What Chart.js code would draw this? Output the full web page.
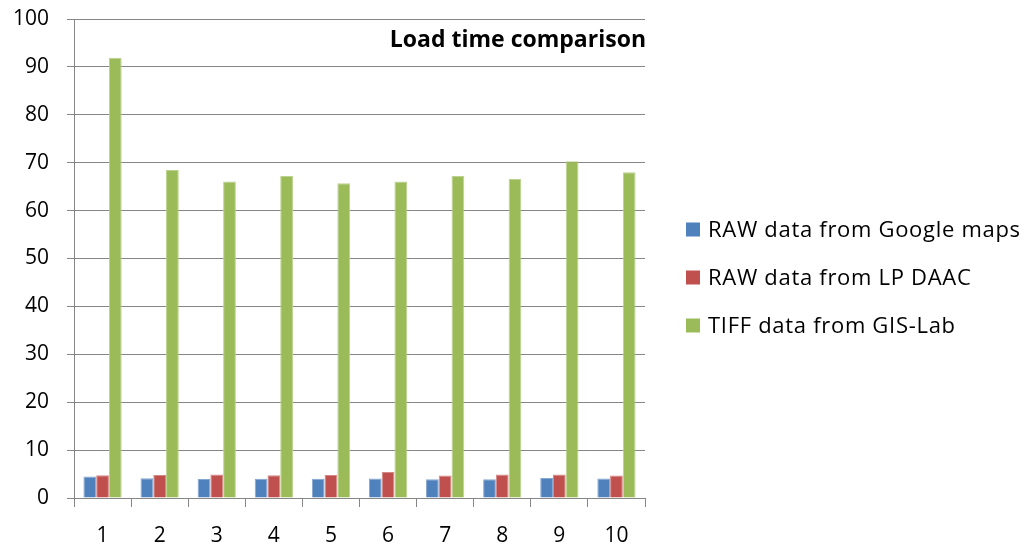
<!DOCTYPE html>
<html>
<head>
<meta charset="utf-8">
<script src="https://cdn.jsdelivr.net/npm/chart.js@4.4.0/dist/chart.umd.min.js"></script>
<style>
  html, body { margin: 0; padding: 0; background: #fff; }
  #wrap { width: 1027px; height: 545px; }
</style>
</head>
<body>
<div id="wrap"><canvas id="grafico" width="1027" height="545"></canvas></div>
<script>
// dados
var categorias = ['1', '2', '3', '4', '5', '6', '7', '8', '9', '10'];
var googleMaps = [4.5, 4.1, 3.95, 4.0, 4.0, 4.05, 3.9, 3.9, 4.2, 4.05];
var lpDaac = [4.75, 4.8, 4.9, 4.75, 4.8, 5.45, 4.7, 4.9, 4.9, 4.7];
var gisLab = [91.9, 68.5, 66.1, 67.2, 65.7, 66.1, 67.2, 66.6, 70.3, 68.0];
var ticksY = [0, 10, 20, 30, 40, 50, 60, 70, 80, 90, 100];
var tituloGrafico = 'Load time comparison';

var cinza = '#868686';
var fonte = "'Open Sans', sans-serif";

// acha o tamanho de fonte para o texto caber numa largura
function tamanhoParaLargura(ctx, texto, peso, largura) {
    ctx.font = peso + ' 20px ' + fonte;
    var w = ctx.measureText(texto).width;
    return Math.round(20 * largura / w * 2) / 2;
}

// titulo desenhado dentro da area do grafico, alinhado a direita
const tituloPlugin = {
    id: 'tituloDentro',
    afterDatasetsDraw(chart) {
        const ctx = chart.ctx;
        ctx.save();
        var tam = Math.min(23, tamanhoParaLargura(ctx, tituloGrafico, 'bold', 260));
        ctx.font = 'bold ' + tam + 'px ' + fonte;
        ctx.fillStyle = '#000';
        ctx.textAlign = 'right';
        ctx.textBaseline = 'middle';
        ctx.fillText(tituloGrafico, chart.chartArea.right + 1, 40);
        ctx.restore();
    }
};

// legenda do lado direito (a do Chart.js fica estreita demais)
const legendaPlugin = {
    id: 'legendaDireita',
    afterDraw(chart) {
        const ctx = chart.ctx;
        const ds = chart.data.datasets;
        ctx.save();
        ctx.font = '22px ' + fonte;
        // espaco entre letras para chegar na largura da figura
        var w = ctx.measureText(ds[0].label).width;
        var extra = Math.max(0, (312 - w) / (ds[0].label.length - 1));
        ctx.letterSpacing = extra.toFixed(2) + 'px';
        ctx.textAlign = 'left';
        ctx.textBaseline = 'middle';
        var x = chart.chartArea.right + 41;
        var y = 229.5;
        ds.forEach(function (d) {
            ctx.fillStyle = d.backgroundColor;
            ctx.fillRect(x, y - 7, 14, 14);
            ctx.fillStyle = '#000';
            ctx.fillText(d.label, x + 22, y + 1);
            y += 48;
        });
        ctx.restore();
    }
};

const dados = {
    labels: categorias,
    datasets: [
        { label: 'RAW data from Google maps', data: googleMaps, backgroundColor: '#4F81BD', borderColor: '#86A7D0' },
        { label: 'RAW data from LP DAAC', data: lpDaac, backgroundColor: '#C0504D', borderColor: '#D48886' },
        { label: 'TIFF data from GIS-Lab', data: gisLab, backgroundColor: '#9BBB59', borderColor: '#BCD28E' }
    ]
};

const config = {
    type: 'bar',
    data: dados,
    options: {
        responsive: false,
        animation: false,
        datasets: { bar: { categoryPercentage: 0.67, barPercentage: 1.0, borderWidth: 1 } },
        layout: { padding: { left: 10, top: 19, right: 382, bottom: 0 } },
        plugins: {
            title: { display: false },
            tooltip: { enabled: false },
            legend: { display: false }
        },
        scales: {
            x: {
                grid: { display: true, drawOnChartArea: false, drawTicks: true, tickLength: 9, color: cinza, offset: true },
                border: { color: cinza, width: 1 },
                ticks: { color: '#000', font: { family: fonte, size: 21 }, padding: 16 },
                afterFit: (s) => { s.height = 47; s.paddingLeft = 0; s.paddingRight = 0; }
            },
            y: {
                min: 0,
                max: 100,
                afterBuildTicks: (s) => { s.ticks = ticksY.map((v) => ({ value: v })); },
                grid: { color: cinza, tickLength: 7 },
                border: { color: cinza, width: 1 },
                ticks: { color: '#000', font: { family: fonte, size: 21 }, padding: 18 },
                afterFit: (s) => { s.width = 64; s.paddingTop = 0; s.paddingBottom = 0; }
            }
        }
    },
    plugins: [tituloPlugin, legendaPlugin]
};

let meuGrafico = new Chart(document.getElementById('grafico'), config);
</script>
</body>
</html>
